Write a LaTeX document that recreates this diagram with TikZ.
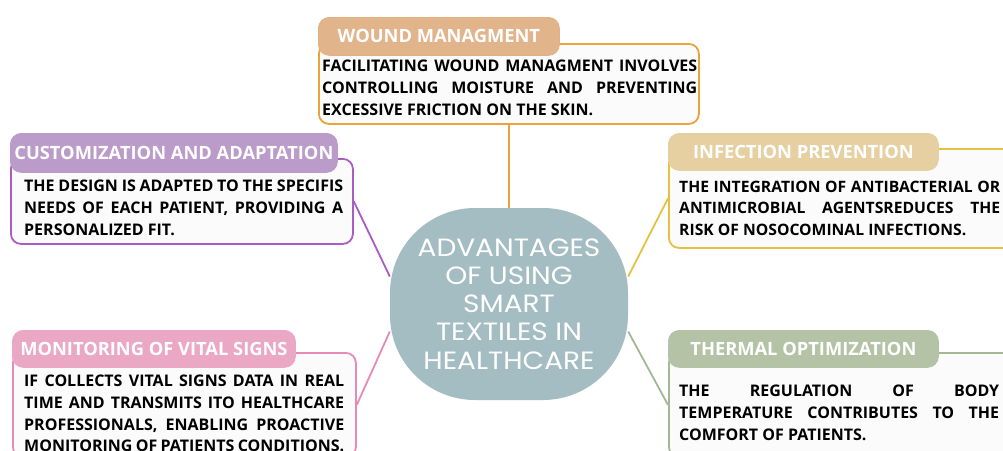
\documentclass[tikz,border=0pt]{standalone}
\usepackage{fontspec}
\setmainfont{Open Sans}
\newfontfamily\centerfont[FakeStretch=1.12]{Poppins}
\definecolor{orgB}{HTML}{E8A33A}
\definecolor{orgT}{HTML}{E2B48C}
\definecolor{purB}{HTML}{A95DC4}
\definecolor{purT}{HTML}{BA9BC9}
\definecolor{yelB}{HTML}{E4C240}
\definecolor{yelT}{HTML}{E6D0A2}
\definecolor{pinB}{HTML}{E68BB7}
\definecolor{pinT}{HTML}{EBA8C5}
\definecolor{grnB}{HTML}{A5B894}
\definecolor{grnT}{HTML}{B4C3A6}
\definecolor{ctr}{HTML}{A4BDC3}
\definecolor{boxfill}{HTML}{FBFBFB}
\tikzset{
  bodybox/.style={draw, line width=1.8pt, rounded corners=10pt, fill=boxfill, inner sep=0pt, anchor=north west},
  titlebox/.style={line width=0.8pt, rounded corners=11pt, inner sep=0pt, anchor=north west, text=white, font=\bfseries\fontsize{18.3}{20}\selectfont},
  bodytext/.style={inner sep=0pt, anchor=north west, align=justify, font=\bfseries\fontsize{16}{21.6}\selectfont},
  link/.style={line width=1.8pt},
  centernode/.style={fill=ctr, rounded corners=85pt, minimum width=238pt, minimum height=192pt, inner sep=0pt, align=center, text=white, font=\centerfont\fontsize{25}{28.2}\selectfont}
}
\begin{document}
\begin{tikzpicture}[x=1pt,y=-1pt]
\useasboundingbox (0,0) rectangle (1003,450);
\fill[white] (0,0) rectangle (1003,450);
\clip (0,0) rectangle (1003,450);

% center
\node[centernode] (c) at (509,304) {ADVANTAGES\\OF USING\\SMART\\TEXTILES IN\\HEALTHCARE};

% body boxes
\node[bodybox, draw=orgB, minimum width=380pt, minimum height=80pt] (wb) at (318,43) {};
\node[bodybox, draw=purB, minimum width=342pt, minimum height=85pt] (cb) at (10,158) {};
\node[bodybox, draw=yelB, minimum width=350pt, minimum height=99pt] (ib) at (668,148) {};
\node[bodybox, draw=pinB, minimum width=343pt, minimum height=104pt] (mb) at (12,352) {};
\node[bodybox, draw=grnB, minimum width=350pt, minimum height=104pt] (tb) at (668,352) {};

% titles
\node[titlebox, fill=orgT, draw=orgT!85!orgB, minimum width=241pt, minimum height=38pt] (wt) at (318,17) {WOUND MANAGMENT};
\node[titlebox, fill=purT, draw=purT, minimum width=327pt, minimum height=39pt] (ct) at (10,133) {CUSTOMIZATION AND ADAPTATION};
\node[titlebox, fill=yelT, draw=yelT, minimum width=270pt, minimum height=37pt] (it) at (668,133) {INFECTION PREVENTION};
\node[titlebox, fill=pinT, draw=pinT, minimum width=283pt, minimum height=37pt] (mt) at (12,330) {MONITORING OF VITAL SIGNS};
\node[titlebox, fill=grnT, draw=grnT, minimum width=270pt, minimum height=37pt] (tt) at (668,330) {THERMAL OPTIMIZATION};

% body texts
\node[bodytext, text width=375pt] (wx) at (322,60) {FACILITATING WOUND MANAGMENT INVOLVES\linebreak CONTROLLING MOISTURE AND PREVENTING\linebreak EXCESSIVE FRICTION ON THE SKIN.};
\node[bodytext, text width=319pt] (cx) at (24,180) {THE DESIGN IS ADAPTED TO THE SPECIFIS\linebreak NEEDS OF EACH PATIENT, PROVIDING A\linebreak PERSONALIZED FIT.};
\node[bodytext, text width=321pt, font=\bfseries\fontsize{15.7}{21.6}\selectfont] (ix) at (679,180.5) {THE INTEGRATION OF ANTIBACTERIAL OR\linebreak ANTIMICROBIAL AGENTSREDUCES THE\linebreak RISK OF NOSOCOMINAL INFECTIONS.};
\node[bodytext, text width=320pt] (mx) at (24,375) {IF COLLECTS VITAL SIGNS DATA IN REAL\linebreak TIME AND TRANSMITS ITO HEALTHCARE\linebreak PROFESSIONALS, ENABLING PROACTIVE\linebreak MONITORING OF PATIENTS CONDITIONS.};
\node[bodytext, text width=320pt] (tx) at (679,385) {THE REGULATION OF BODY\linebreak TEMPERATURE CONTRIBUTES TO THE\linebreak COMFORT OF PATIENTS.};

% connectors
\draw[link, orgB] (wb.south) -- (c.north);
\draw[link, purB] (cb.east) -- (c.167);
\draw[link, yelB] (ib.west) -- (c.13);
\draw[link, pinB] (c.193) -- (mb.east);
\draw[link, grnB] (c.-13) -- (tb.west);
\end{tikzpicture}
\end{document}
